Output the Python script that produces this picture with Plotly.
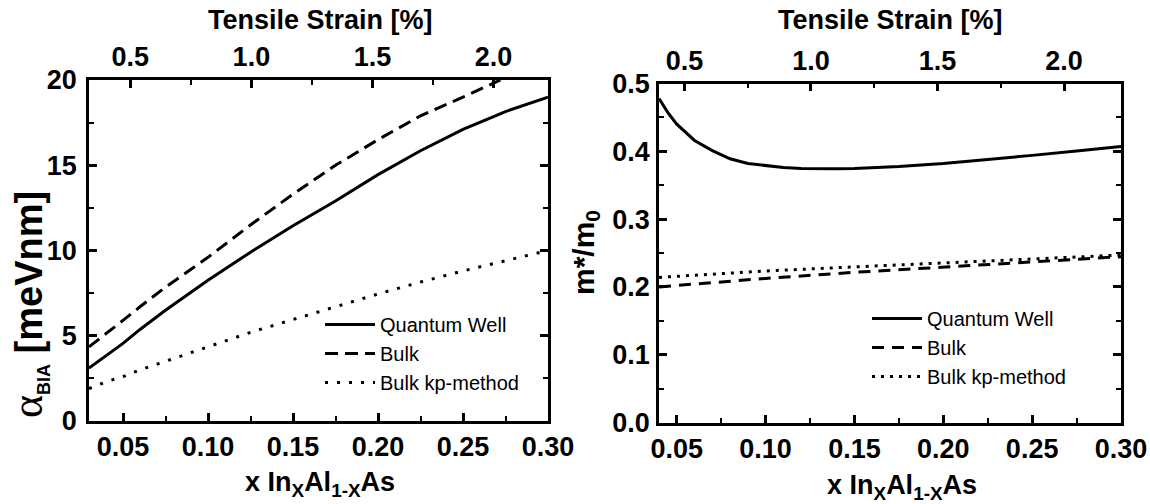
import plotly.graph_objects as go

# ---- composition axis (x in In_xAl_1-xAs) ----
X_LEFT = [0.03, 0.04, 0.05, 0.06, 0.075, 0.10, 0.125, 0.15, 0.175, 0.20, 0.225, 0.25, 0.275, 0.30]
X_BULK_LEFT = [0.03, 0.04, 0.05, 0.06, 0.075, 0.10, 0.125, 0.15, 0.175, 0.20, 0.225, 0.25, 0.272]

# Dresselhaus coefficient alpha_BIA [meV nm]
QW_ALPHA = [3.1, 3.85, 4.55, 5.37, 6.5, 8.26, 9.9, 11.45, 12.9, 14.45, 15.85, 17.1, 18.15, 19.0]
BULK_ALPHA = [4.35, 5.1, 5.9, 6.7, 7.85, 9.6, 11.5, 13.3, 15.0, 16.5, 17.9, 19.0, 20.0]
KP_ALPHA = [1.9, 2.3, 2.6, 3.0, 3.5, 4.35, 5.2, 5.95, 6.7, 7.45, 8.15, 8.8, 9.4, 10.0]

# Effective mass m*/m0
X_RIGHT = [0.04, 0.045, 0.05, 0.06, 0.07, 0.08, 0.09, 0.10, 0.11, 0.12, 0.13, 0.14,
           0.15, 0.175, 0.20, 0.225, 0.25, 0.275, 0.30]
QW_MASS = [0.478, 0.457, 0.440, 0.416, 0.401, 0.389, 0.382, 0.3785, 0.376, 0.3748, 0.3743,
           0.3743, 0.3745, 0.3775, 0.382, 0.3875, 0.394, 0.4005, 0.407]
X_BULK_RIGHT = [0.04, 0.07, 0.10, 0.15, 0.20, 0.25, 0.30]
BULK_MASS = [0.200, 0.2065, 0.2125, 0.2215, 0.2295, 0.237, 0.2445]
KP_MASS = [0.214, 0.219, 0.2235, 0.2295, 0.2355, 0.241, 0.247]

SERIES_NAMES = ["Quantum Well", "Bulk", "Bulk kp-method"]

# linear relation between indium content and tensile strain [%]
STRAIN_REF_X = 0.0543
STRAIN_REF = 0.5
STRAIN_PER_X = 7.02

LEFT_XRANGE = [0.03, 0.30]
RIGHT_XRANGE = [0.04, 0.30]


def strain(x):
    return STRAIN_REF + STRAIN_PER_X * (x - STRAIN_REF_X)


W, H = 1150, 504
FONT = "Liberation Sans, Arial, sans-serif"


def px(xp):
    return xp / W


def py(yp):
    return 1 - yp / H


fig = go.Figure()

styles = [
    dict(color="black", width=3),
    dict(color="black", width=3, dash="13px,7px"),
    dict(color="black", width=3, dash="3px,9px"),
]
styles_r = [
    dict(color="black", width=3),
    dict(color="black", width=3, dash="12px,8px"),
    dict(color="black", width=3, dash="3px,6px"),
]

for name, xs, ys, st in zip(SERIES_NAMES, [X_LEFT, X_BULK_LEFT, X_LEFT],
                            [QW_ALPHA, BULK_ALPHA, KP_ALPHA], styles):
    fig.add_trace(go.Scatter(x=xs, y=ys, mode="lines", name=name, line=st,
                             xaxis="x", yaxis="y", legend="legend"))

for name, xs, ys, st in zip(SERIES_NAMES, [X_RIGHT, X_BULK_RIGHT, X_BULK_RIGHT],
                            [QW_MASS, BULK_MASS, KP_MASS], styles_r):
    fig.add_trace(go.Scatter(x=xs, y=ys, mode="lines", name=name, line=st,
                             xaxis="x2", yaxis="y2", legend="legend2"))

# empty traces so the strain axes on top are drawn
fig.add_trace(go.Scatter(x=[], y=[], xaxis="x3", yaxis="y", showlegend=False, hoverinfo="skip"))
fig.add_trace(go.Scatter(x=[], y=[], xaxis="x4", yaxis="y2", showlegend=False, hoverinfo="skip"))

tickfont = dict(family=FONT, size=27, color="black", weight="bold")
common = dict(showline=True, linewidth=2.5, linecolor="black", ticks="inside",
              ticklen=8, tickwidth=2.5, tickcolor="black", showgrid=False,
              zeroline=False, tickfont=tickfont, automargin=False)
minor_x = dict(dtick=0.025, ticks="inside", ticklen=5, tickwidth=2, tickcolor="black")
minor_s = dict(dtick=0.25, ticks="inside", ticklen=5, tickwidth=2, tickcolor="black")

left_dom = [px(89), px(548)]
right_dom = [px(659), px(1121)]
left_ydom = [py(421), py(80)]
right_ydom = [py(422.5), py(83.5)]

fig.update_layout(
    width=W, height=H, margin=dict(l=0, r=0, t=0, b=0, autoexpand=False),
    paper_bgcolor="white", plot_bgcolor="white",
    font=dict(family=FONT, color="black"),
    xaxis=dict(domain=left_dom, range=LEFT_XRANGE, anchor="y", mirror=True,
               tick0=0, dtick=0.05, tickformat=".2f", minor=minor_x, **common),
    xaxis3=dict(domain=left_dom, range=[strain(LEFT_XRANGE[0]), strain(LEFT_XRANGE[1])],
                anchor="y", overlaying="x", side="top",
                tick0=0, dtick=0.5, tickformat=".1f", minor=minor_s, **common),
    yaxis=dict(domain=left_ydom, range=[0, 20], anchor="x", mirror="ticks",
               tick0=0, dtick=5, ticklabelstandoff=4,
               minor=dict(dtick=2.5, ticks="inside", ticklen=5, tickwidth=2, tickcolor="black"),
               **common),
    xaxis2=dict(domain=right_dom, range=RIGHT_XRANGE, anchor="y2", mirror=True,
                tick0=0, dtick=0.05, tickformat=".2f", minor=minor_x, **common),
    xaxis4=dict(domain=right_dom, range=[strain(RIGHT_XRANGE[0]), strain(RIGHT_XRANGE[1])],
                anchor="y2", overlaying="x2", side="top",
                tick0=0, dtick=0.5, tickformat=".1f", minor=minor_s, **common),
    yaxis2=dict(domain=right_ydom, range=[0, 0.5], anchor="x2", mirror="ticks",
                tick0=0, dtick=0.1, tickformat=".1f", ticklabelstandoff=1,
                minor=dict(dtick=0.05, ticks="inside", ticklen=5, tickwidth=2, tickcolor="black"),
                **common),
    legend=dict(x=px(320), y=py(305), xanchor="left", yanchor="top",
                bgcolor="rgba(0,0,0,0)", font=dict(family=FONT, size=20, color="black"),
                itemwidth=50),
    legend2=dict(x=px(867), y=py(299), xanchor="left", yanchor="top",
                 bgcolor="rgba(0,0,0,0)", font=dict(family=FONT, size=20, color="black"),
                 itemwidth=50),
)

title_font = dict(family=FONT, size=27, color="black", weight="bold")
ann = [
    dict(text="Tensile Strain [%]", x=px(320), y=py(20)),
    dict(text="Tensile Strain [%]", x=px(890), y=py(20)),
    dict(text="x In<sub>X</sub>Al<sub>1-X</sub>As", x=px(320), y=py(484)),
    dict(text="x In<sub>X</sub>Al<sub>1-X</sub>As", x=px(902), y=py(487)),
    dict(text="m*/m<sub>0</sub>", x=px(585), y=py(252), textangle=-90,
         font=dict(family=FONT, size=30, color="black", weight="bold")),
    dict(text=('<span style="font-family:Liberation Serif;font-weight:normal;font-size:44px">α</span>'
               '<sub><span style="font-size:18px">BIA</span></sub> [meVnm]'),
         x=px(28), y=py(305), textangle=-90,
         font=dict(family=FONT, size=38, color="black", weight="bold")),
]
for a in ann:
    a.setdefault("font", title_font)
    fig.add_annotation(xref="paper", yref="paper", showarrow=False,
                       xanchor="center", yanchor="middle", **a)

fig.write_html("out.html")
